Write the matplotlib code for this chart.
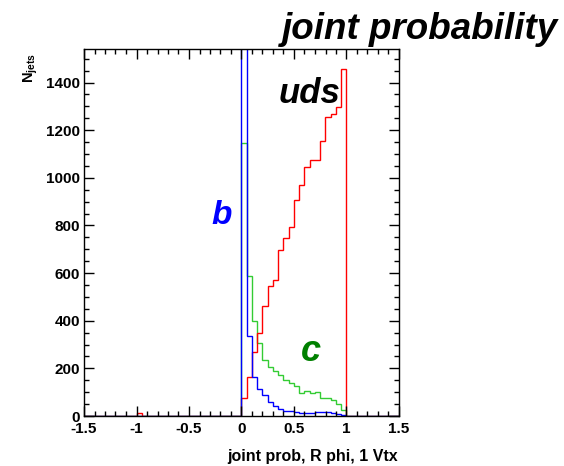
import numpy as np
import matplotlib
matplotlib.use('Agg')
import matplotlib.pyplot as plt
import matplotlib.transforms as mtransforms
from matplotlib.ticker import MultipleLocator

plt.rcParams['font.family'] = ['Liberation Sans', 'DejaVu Sans']
plt.rcParams['font.weight'] = 'bold'
plt.rcParams['mathtext.fontset'] = 'custom'
plt.rcParams['mathtext.rm'] = 'Liberation Sans:bold'
plt.rcParams['mathtext.bf'] = 'Liberation Sans:bold'

# 0.05 wide bins from 0 to 1 (entries per bin)
uds_counts = [76, 165, 270, 348, 462, 545, 573, 695, 748, 794,
              907, 971, 1045, 1076, 1076, 1153, 1254, 1268, 1299, 1458]
c_counts = [1146, 587, 397, 306, 235, 206, 191, 174, 153, 139,
            125, 96, 106, 95, 100, 75, 75, 68, 52, 25]
b_counts = [4000, 334, 165, 113, 87, 59, 43, 30, 22, 19,
            17, 12, 12, 12, 18, 15, 15, 12, 10, 5]
# red entries sitting at the default value -1
uds_at_minus1 = 12

edges = np.round(np.arange(-1.5, 1.5001, 0.05), 3)
first = int(np.argmin(np.abs(edges - 0.0)))
minus1 = int(np.argmin(np.abs(edges + 1.0)))


def full_hist(counts):
    h = np.zeros(len(edges) - 1)
    h[first:first + len(counts)] = counts
    return h


uds = full_hist(uds_counts)
uds[minus1] = uds_at_minus1
charm = full_hist(c_counts)
bottom = full_hist(b_counts)

fig = plt.figure(figsize=(5.64, 4.66), dpi=100)
ax = fig.add_axes([84 / 564, 1 - 416 / 466, 315 / 564, 367 / 466])

ax.stairs(charm, edges, color='#33cc33', lw=1)
ax.stairs(uds, edges, color='#ff0000', lw=1)
ax.stairs(bottom, edges, color='#0000ff', lw=1)

ax.set_xlim(-1.5, 1.5)
ax.set_ylim(0, 1541)
ax.xaxis.set_major_locator(MultipleLocator(0.5))
ax.xaxis.set_minor_locator(MultipleLocator(0.1))
ax.yaxis.set_major_locator(MultipleLocator(200))
ax.yaxis.set_minor_locator(MultipleLocator(50))
ax.tick_params(which='both', direction='in', top=True, right=True, width=1)
ax.tick_params(which='major', length=7, labelsize=11)
ax.tick_params(which='minor', length=3.5)
ax.tick_params(axis='x', pad=4)
ax.tick_params(axis='y', pad=3)
ax.set_xticks([-1.5, -1, -0.5, 0, 0.5, 1, 1.5])
ax.set_xticklabels(['-1.5', '-1', '-0.5', '0', '0.5', '1', '1.5'])
for s in ax.spines.values():
    s.set_linewidth(1)

# lift the y "0" a touch so it sits just above "-1.5"
fig.canvas.draw()
zero_lbl = ax.get_yticklabels()[0]
zero_lbl.set_transform(zero_lbl.get_transform() +
                       mtransforms.ScaledTranslation(0, 3 / 72, fig.dpi_scale_trans))

ax.text(0.35, 1316, 'uds', fontsize=25, fontweight='bold', fontstyle='italic',
        color='black', ha='left', va='baseline')
ax.text(-0.29, 805, 'b', fontsize=24, fontweight='bold', fontstyle='italic',
        color='#0000ff', ha='left', va='baseline')
ax.text(0.57, 230, 'c', fontsize=26, fontweight='bold', fontstyle='italic',
        color='#008000', ha='left', va='baseline')

fig.text(558 / 564, 1 - 12 / 466, 'joint probability', fontsize=26.5,
         fontweight='bold', fontstyle='italic', ha='right', va='top')
fig.text(398 / 564, 1 - 461 / 466, 'joint prob, R phi, 1 Vtx', fontsize=11.5,
         fontweight='bold', ha='right', va='baseline')
fig.text(31 / 564, 1 - 53 / 466, r'$\mathbf{N_{jets}}$', fontsize=10.5,
         rotation=90, ha='center', va='top')

fig.savefig('out.png', dpi=100)
